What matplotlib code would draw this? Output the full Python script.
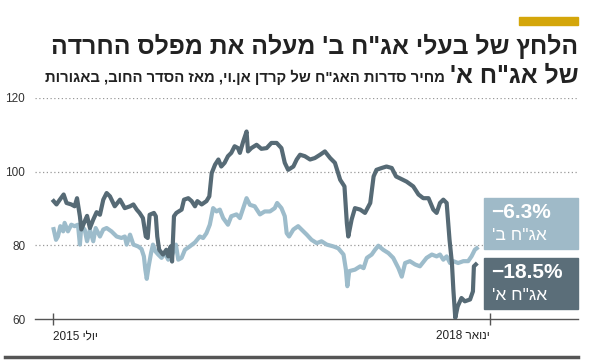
import re
import matplotlib
matplotlib.use("Agg")
import matplotlib.pyplot as plt
import pandas as pd
from matplotlib.patches import Rectangle
from matplotlib.lines import Line2D

plt.rcParams['font.family'] = ['Liberation Sans', 'DejaVu Sans']

# days since 2015-07-01 and price (agorot)
days_a = [1, 7, 14, 22, 28, 38, 45, 50, 56, 59, 66, 71, 77, 84, 91, 98, 105, 112, 119, 129,
          140, 150, 161, 168, 175, 181, 188, 194, 198, 202, 211, 215, 218, 222, 230, 237, 241,
          246, 249, 253, 258, 269, 274, 283, 290, 297, 302, 311, 321, 327, 332, 339, 346, 352,
          359, 366, 373, 380, 387, 391, 398, 405, 408, 415, 426, 436, 447, 457, 468, 478, 485,
          492, 503, 510, 517, 527, 538, 548, 559, 569, 580, 590, 601, 610, 615, 618, 625, 632,
          643, 653, 664, 671, 677, 688, 698, 709, 718, 726, 740, 754, 765, 775, 786, 796, 803,
          810, 817, 824, 830, 835, 838, 842, 847, 855, 862, 873, 879, 881, 885]
price_a = [92.0, 91.1, 92.4, 93.8, 91.5, 91.1, 90.6, 92.8, 87.9, 84.3, 86.5, 88.0, 84.7, 87.0,
           89.0, 88.3, 92.4, 94.2, 93.3, 90.6, 92.4, 90.1, 90.6, 91.1, 89.7, 88.8, 87.4, 82.4,
           82.0, 88.3, 88.8, 87.9, 82.4, 78.8, 77.5, 78.8, 77.0, 79.7, 75.6, 87.9, 88.8, 89.7,
           92.4, 92.8, 92.0, 90.6, 92.0, 91.1, 92.0, 93.3, 99.6, 101.9, 103.3, 101.4, 102.4,
           104.2, 105.1, 106.9, 106.4, 105.1, 108.2, 110.9, 105.5, 106.4, 107.3, 106.2, 106.4,
           107.8, 107.8, 106.4, 102.4, 100.5, 101.4, 103.3, 104.6, 104.2, 103.3, 103.7, 104.6,
           105.5, 103.7, 102.4, 97.8, 96.0, 86.0, 82.4, 87.0, 90.1, 89.7, 88.8, 91.5, 98.7,
           100.5, 101.0, 101.4, 101.0, 98.7, 98.2, 97.3, 96.0, 93.8, 92.8, 92.8, 89.7, 88.8,
           91.5, 92.4, 91.5, 81.5, 75.2, 68.0, 60.3, 63.4, 65.7, 64.8, 65.3, 67.5, 74.3, 74.8]

days_b = [1, 6, 10, 15, 21, 24, 31, 38, 45, 52, 56, 59, 66, 71, 77, 84, 89, 98, 105, 112, 122,
          133, 143, 150, 154, 161, 168, 178, 185, 190, 193, 196, 200, 205, 209, 214, 220, 227,
          234, 241, 248, 257, 262, 269, 276, 286, 297, 307, 314, 321, 328, 335, 342, 349, 356,
          366, 373, 384, 391, 398, 405, 412, 422, 433, 443, 454, 464, 469, 478, 485, 489, 494,
          503, 513, 520, 531, 541, 552, 562, 573, 587, 597, 608, 613, 616, 620, 632, 643, 650,
          657, 667, 674, 681, 691, 702, 712, 723, 730, 737, 747, 758, 768, 782, 793, 803, 810,
          817, 824, 831, 838, 848, 859, 869, 876, 883, 887]
price_b = [84.4, 81.5, 82.4, 85.2, 83.8, 86.1, 83.8, 85.6, 85.2, 85.6, 80.2, 85.2, 84.3, 81.1,
           84.3, 81.1, 84.7, 82.4, 84.3, 84.7, 83.8, 82.4, 82.0, 82.4, 80.2, 82.9, 80.2, 79.7,
           79.0, 77.0, 73.4, 70.9, 74.3, 77.9, 80.2, 78.4, 77.5, 76.6, 77.9, 76.1, 77.0, 80.2,
           76.1, 76.6, 78.8, 79.7, 80.8, 82.4, 82.0, 83.3, 85.6, 90.1, 89.2, 89.7, 87.4, 85.6,
           87.9, 88.4, 87.4, 90.1, 92.8, 91.0, 90.6, 88.4, 89.2, 89.2, 90.1, 91.5, 90.1, 87.9,
           83.3, 82.4, 84.3, 85.2, 84.3, 82.9, 81.5, 80.6, 81.1, 80.2, 79.7, 79.2, 77.5, 73.4,
           68.9, 73.0, 73.4, 74.3, 73.8, 76.6, 77.5, 78.8, 79.9, 78.8, 77.9, 76.6, 73.8, 71.5,
           75.2, 75.7, 74.8, 74.3, 76.6, 77.5, 77.0, 77.5, 76.1, 77.0, 75.2, 75.7, 75.2, 75.7,
           75.7, 77.0, 78.8, 79.2]

tick_dates = ['2015-07-01', '2018-01-01']
tick_labels = ['יולי 2015', 'ינואר 2018']
change_a = '−18.5%'
change_b = '−6.3%'
name_a = 'אג"ח א\''
name_b = 'אג"ח ב\''
title1 = 'הלחץ של בעלי אג"ח ב\' מעלה את מפלס החרדה'
title2 = 'של אג"ח א\''
subtitle = 'מחיר סדרות האג"ח של קרדן אן.וי, מאז הסדר החוב, באגורות'

DARK = '#566a75'
LIGHT = '#9dbccb'


def rtl(s):
    # matplotlib has no bidi: reverse hebrew, keep number runs readable
    r = s[::-1]
    return re.sub(r'[0-9.,%]+[0-9]', lambda m: m.group(0)[::-1], r)


start = pd.Timestamp('2015-07-01')
xa = start + pd.to_timedelta(days_a, unit='D')
xb = start + pd.to_timedelta(days_b, unit='D')

W, H = 590, 362
fig = plt.figure(figsize=(W / 100, H / 100), dpi=100)
ax = fig.add_axes([35 / W, (H - 319) / H, (578 - 35) / W, (319 - 98) / H])

ax.plot(xb, price_b, color=LIGHT, lw=3, solid_joinstyle='round', zorder=3)
ax.plot(xa, price_a, color=DARK, lw=3, solid_joinstyle='round', zorder=4)

ax.set_ylim(60, 120)
ax.set_xlim(start - pd.Timedelta(days=38), start + pd.Timedelta(days=1099))
ax.set_yticks([60, 80, 100, 120])
for v in [80, 100, 120]:
    ax.axhline(v, color='#999999', lw=0.9, ls=(0, (1, 2)), zorder=1)

ax.set_xticks(pd.to_datetime(tick_dates))
ax.set_xticklabels([rtl(t) for t in tick_labels])
labs = ax.get_xticklabels()
labs[0].set_ha('left')
labs[1].set_ha('right')

for s in ['top', 'right', 'left']:
    ax.spines[s].set_visible(False)
ax.spines['bottom'].set_color('#555555')
ax.spines['bottom'].set_linewidth(1)
ax.tick_params(axis='y', length=0, pad=7, labelsize=8.5, labelcolor='#333333')
ax.tick_params(axis='x', direction='inout', length=8, width=1, color='#555555',
               pad=4, labelsize=8.5, labelcolor='#222222')
ax.patch.set_visible(False)

# value boxes
fig.patches.append(Rectangle((484 / W, (H - 249) / H), 94 / W, 51 / H,
                             transform=fig.transFigure, color='#9fbac8', zorder=5))
fig.patches.append(Rectangle((484 / W, (H - 309) / H), 94 / W, 51 / H,
                             transform=fig.transFigure, color='#5b6e79', zorder=5))
fig.text(491 / W, (H - 213) / H, change_b, color='white', fontsize=15,
         fontweight='bold', va='center', ha='left', zorder=6)
fig.text(492 / W, (H - 236) / H, rtl(name_b), color='white', fontsize=12.5,
         va='center', ha='left', zorder=6)
fig.text(491 / W, (H - 273) / H, change_a, color='white', fontsize=15,
         fontweight='bold', va='center', ha='left', zorder=6)
fig.text(492 / W, (H - 296) / H, rtl(name_a), color='white', fontsize=12.5,
         va='center', ha='left', zorder=6)

# header
fig.patches.append(Rectangle((519 / W, (H - 25) / H), 59 / W, 8 / H,
                             transform=fig.transFigure, color='#d4a60a'))
t1 = fig.text(578 / W, (H - 46) / H, rtl(title1), fontsize=20, fontweight='bold',
              color='#222222', ha='right', va='center')
t2 = fig.text(578 / W, (H - 75) / H, rtl(title2), fontsize=20, fontweight='bold',
              color='#222222', ha='right', va='center')
r = fig.canvas.get_renderer()
scale = (578 - 50) / t1.get_window_extent(r).width
t1.set_fontsize(20 * scale)
t2.set_fontsize(20 * scale)
left2 = t2.get_window_extent(r).x0
fig.text((left2 - 5) / W, (H - 77) / H, rtl(subtitle), fontsize=10.7, fontweight='bold',
         color='#222222', ha='right', va='center')

# bottom rule
fig.lines.append(Line2D([5 / W, 578 / W], [(H - 357) / H] * 2,
                        transform=fig.transFigure, color='#555555', lw=2.5))

fig.savefig('out.png', dpi=100)
